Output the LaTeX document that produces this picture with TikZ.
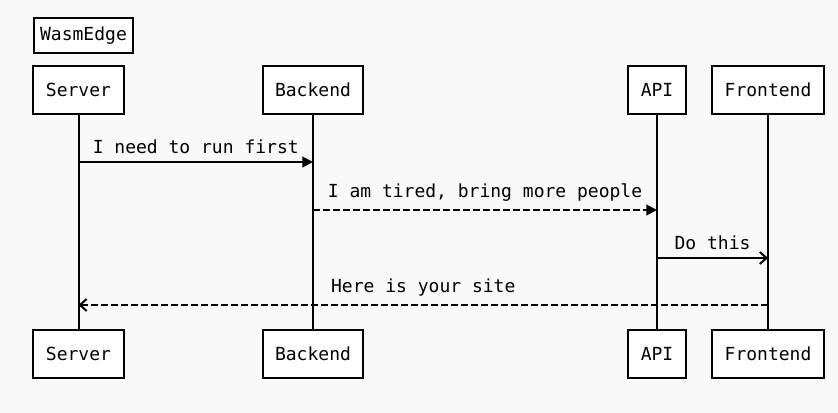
\documentclass[tikz,border=0pt]{standalone}
\usepackage{fontspec}
\setmonofont{DejaVu Sans Mono}
\usetikzlibrary{arrows.meta}
\definecolor{bggray}{RGB}{249,249,249}

\begin{document}
\begin{tikzpicture}[x=0.75pt,y=-0.75pt,
  txt/.style={font=\ttfamily\fontsize{13.5}{16}\selectfont},
  actor/.style={txt,draw,line width=1.5pt,fill=white,minimum height=36pt,inner xsep=9.4pt},
  life/.style={line width=1.5pt},
  syncmsg/.style={line width=1.5pt,-{Triangle[length=8pt,width=8pt]}},
  replymsg/.style={line width=1.5pt,-{Straight Barb[length=5pt,width=9pt]}},
  dashmsg/.style={dashed,dash pattern=on 5pt off 2.5pt},
  lbl/.style={txt,above,inner sep=3pt,yshift=2.5pt}]
\useasboundingbox[fill=bggray] (0,0) rectangle (838,413);

\node[txt,draw,line width=1.5pt,fill=white,minimum height=26pt,inner xsep=4.5pt] (wasm) at (83.5,35.5) {WasmEdge};

% participants, top and bottom
\foreach \n/\x/\t in {srv/78.5/Server,back/313/Backend,api/657/API,front/768/Frontend} {
\draw[life] (\x,90) -- (\x,354);
\node[actor] (\n-top) at (\x,90) {\t};
\node[actor] (\n-bot) at (\x,354) {\t};
}

% messages
\draw[syncmsg] (srv-top |- 0,162) -- node[lbl] {I need to run first} (back-top |- 0,162);
\draw[syncmsg,dashmsg] (back-top |- 0,210) -- node[lbl] {I am tired, bring more people} (api-top |- 0,210);
\draw[replymsg] (api-top |- 0,258) -- node[lbl] {Do this} (front-top |- 0,258);
\draw[replymsg,dashmsg] (front-top |- 0,305) -- node[lbl] {Here is your site} (srv-top |- 0,305);
\end{tikzpicture}
\end{document}
